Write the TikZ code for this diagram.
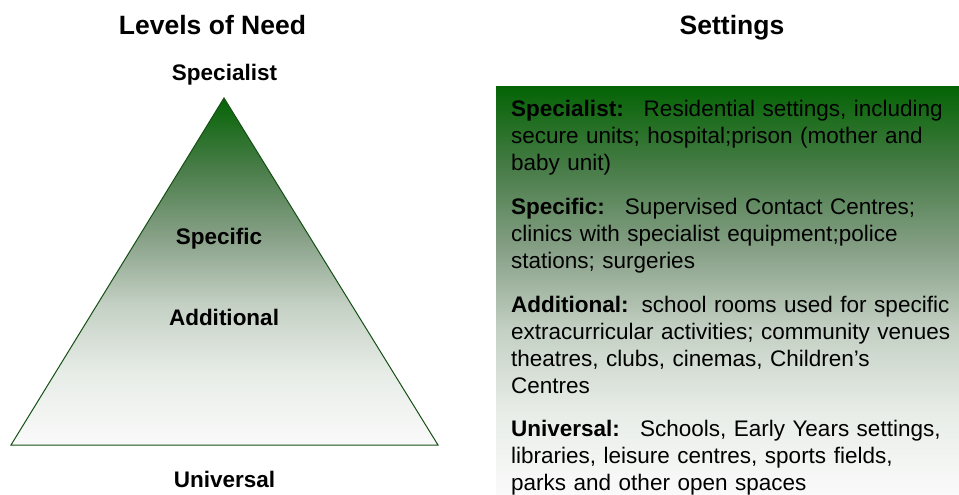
\documentclass[tikz,border=0pt]{standalone}
\usepackage{fontspec}
\setmainfont{Liberation Sans}
\definecolor{needgreen}{RGB}{5,100,5}
\definecolor{neededge}{RGB}{20,80,20}

% Fondu vertical : vert fonce en haut, gris-vert, puis blanc.
\pgfdeclareverticalshading{needfade}{100bp}{%
    color(0bp)=(white!98!black); color(25bp)=(white!98!black);
    color(35bp)=(rgb,255:red,232;green,237;blue,232);
    color(45bp)=(rgb,255:red,197;green,209;blue,197);
    color(55bp)=(rgb,255:red,135;green,160;blue,135);
    color(65bp)=(rgb,255:red,72;green,124;blue,72);
    color(75bp)=(needgreen); color(100bp)=(needgreen)}

\begin{document}
\begin{tikzpicture}[
    x=1pt, y=-1pt,
    heading/.style={font=\fontsize{26.5}{30}\selectfont\bfseries, anchor=base, inner sep=0},
    level/.style={font=\fontsize{22.5}{27}\selectfont\bfseries, anchor=base, inner sep=0},
    setting/.style={font=\fontsize{22.5}{27.2}\selectfont, anchor=base west, inner sep=0,
        text width=445pt, align=left}]
    \useasboundingbox (0,0) rectangle (959,495);

    % Titres des deux colonnes.
    \node[heading] (need) at (212.5,34.7) {Levels of Need};
    \node[heading] (sett) at (732,34.7) {Settings};

    % Pyramide des niveaux.
    \coordinate (apex) at (224,98);
    \coordinate (bl) at (11,445);
    \coordinate (br) at (438,445);
    \shade[shading=needfade] (apex) -- (br) -- (bl) -- cycle;
    \draw[neededge, line width=1pt, line join=miter] (apex) -- (br) -- (bl) -- cycle;

    % Noms des niveaux.
    \node[level] (spec) at (224.5,81) {Specialist};
    \node[level] (sfic) at (219,244) {Specific};
    \node[level] (addi) at (224,325) {Additional};
    \node[level] (univ) at (224.5,487) {Universal};

    % Bloc des lieux a droite.
    \shade[shading=needfade] (496,87) rectangle (959,495);

    \node[setting] (tspec) at (511,116) {\textbf{Specialist:}\hspace{20pt}Residential settings, including\\
        secure units; hospital;prison (mother and\\ baby unit)};
    \node[setting] (tsfic) at (511,214) {\textbf{Specific:}\hspace{20pt}Supervised Contact Centres;\\
        clinics with specialist equipment;police\\ stations; surgeries};
    \node[setting] (taddi) at (511,312) {\textbf{Additional:}\hspace{13pt}school rooms used for specific\\
        extracurricular activities; community venues\\ theatres, clubs, cinemas, Children’s\\ Centres};
    \node[setting] (tuniv) at (511,436) {\textbf{Universal:}\hspace{20pt}Schools, Early Years settings,\\
        libraries, leisure centres, sports fields,\\ parks and other open spaces};
\end{tikzpicture}
\end{document}
